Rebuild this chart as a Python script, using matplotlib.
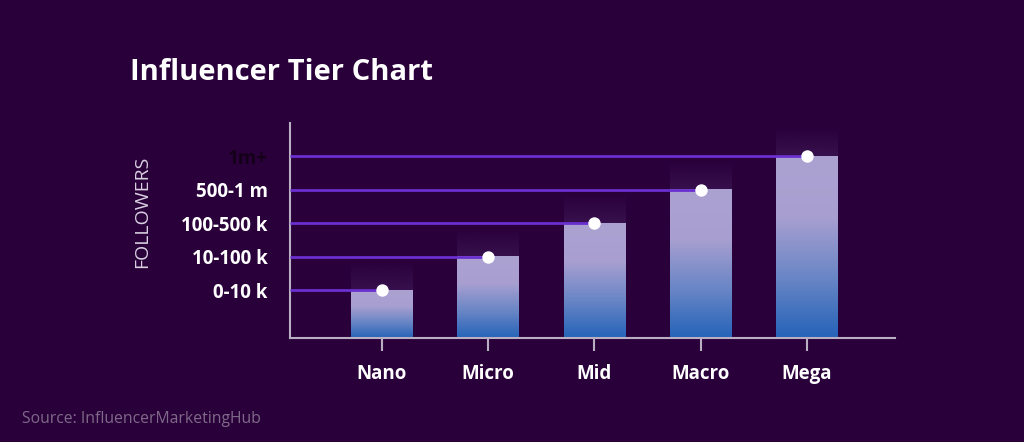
import matplotlib
matplotlib.use("Agg")
import matplotlib.pyplot as plt
import numpy as np
from matplotlib.colors import LinearSegmentedColormap

tiers = ["Nano", "Micro", "Mid", "Macro", "Mega"]
levels = [1, 2, 3, 4, 5]
level_labels = ["0-10 k", "10-100 k", "100-500 k", "500-1 m", "1m+"]

bg = "#2a003b"
plt.rcParams["font.family"] = ["Open Sans", "DejaVu Sans"]

fig = plt.figure(figsize=(10.24, 4.42), dpi=100, facecolor=bg)
ax = fig.add_axes([0.2832, 0.2353, 0.5908, 0.4864], facecolor=bg)

x = np.arange(len(tiers))
xmin, xmax = -0.866, 4.83
ymin, ymax = -0.43, 6.0
ax.set_xlim(xmin, xmax)
ax.set_ylim(ymin, ymax)

cmap = LinearSegmentedColormap.from_list("bar", ["#2563b8", "#6a86c6", "#a89fd0", "#aca2d2"])
grad = np.linspace(0, 1, 256).reshape(-1, 1)
shade = np.zeros((64, 1, 4))
shade[..., :3] = np.array([0x3c, 0x18, 0x55]) / 255
shade[:, 0, 3] = np.linspace(0.7, 0.0, 64)
w = 0.58
for xi, lv in zip(x, levels):
    # faint shade above the bar
    ax.imshow(shade, origin="lower", aspect="auto",
              extent=(xi - w / 2, xi + w / 2, lv, lv + 0.85), zorder=1)
    ax.imshow(grad, cmap=cmap, origin="lower", aspect="auto",
              extent=(xi - w / 2, xi + w / 2, ymin, lv), zorder=2)
    ax.hlines(lv, xmin, xi, color="#6a2fcf", lw=2.0, zorder=3)
ax.scatter(x, levels, s=80, color="white", zorder=4, lw=0)

ax.set_xticks(x)
ax.set_xticklabels(tiers, color="white", fontsize=13.5, fontweight="bold")
ax.set_yticks(levels)
ax.set_yticklabels(level_labels, color="white", fontsize=13.5, fontweight="bold")
ax.get_yticklabels()[-1].set_color("#140018")
ax.tick_params(axis="x", length=9, width=1.5, color="#b8b0c2", pad=10)
ax.tick_params(axis="y", length=0, pad=16)

for s in ["top", "right"]:
    ax.spines[s].set_visible(False)
for s in ["left", "bottom"]:
    ax.spines[s].set_color("#b8b0c2")
    ax.spines[s].set_linewidth(1.5)

fig.text(0.127, 0.819, "Influencer Tier Chart", color="white", fontsize=21, fontweight="bold", va="baseline")
fig.text(0.139, 0.52, "FOLLOWERS", color="#d8d0e0", fontsize=14, rotation=90, va="center", ha="center")
fig.text(0.021, 0.043, "Source: InfluencerMarketingHub", color="#7e6a88", fontsize=11.3)

fig.savefig("out.png", dpi=100, facecolor=bg)
